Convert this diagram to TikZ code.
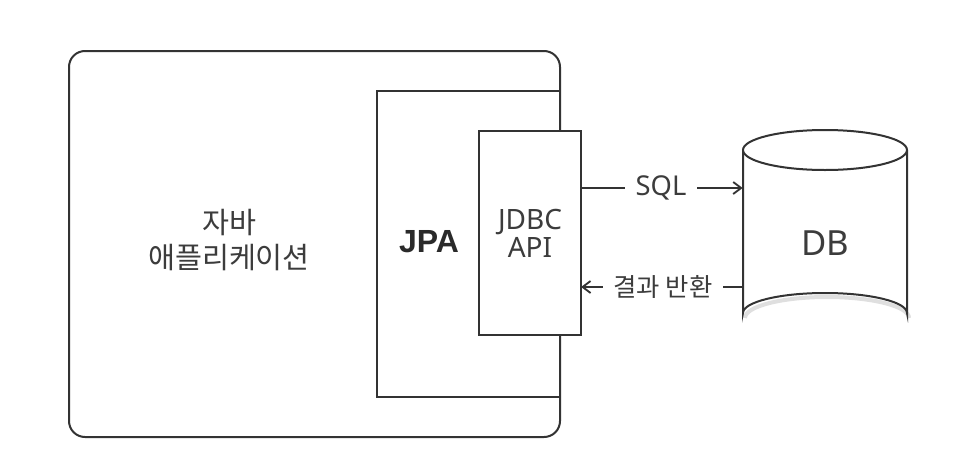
\documentclass[tikz,border=0pt]{standalone}
\usepackage{fontspec}
\setmainfont{Noto Sans}
\newfontfamily\kr{Noto Sans CJK KR}
\newfontfamily\arialfont{Liberation Sans}
\usetikzlibrary{arrows.meta}
\definecolor{ink}{HTML}{333333}
\definecolor{txt}{HTML}{3C3C3C}
\begin{document}
\begin{tikzpicture}[x=0.75pt,y=-0.75pt,
  box/.style={draw=ink,line width=1.5pt,inner sep=0pt,outer sep=0pt,fill=white},
  conn/.style={draw=ink,line width=1.4pt},
  arr/.style={conn,-{Straight Barb[length=6pt,width=9pt,line width=1.4pt]}},
  lbl/.style={text=txt,inner ysep=0pt,inner xsep=8pt}]
\useasboundingbox (0,0) rectangle (960,468);
\node[box,rounded corners=12pt,minimum width=368.25pt,minimum height=289.5pt] (app) at (314.5,244) {};
\node[box,minimum width=137.25pt,minimum height=229.5pt] (jpa) at (468.5,244) {};
\node[box,minimum width=76.5pt,minimum height=153pt,text=txt,align=center,
  font=\fontsize{21}{21}\selectfont] (jdbc) at (530,233) {JDBC\\API};
\node[text=txt,align=center,font=\kr\fontsize{22}{26.5}\selectfont] (applabel) at (229,240) {자바\\애플리케이션};
\node[text=txt!70!black,font=\arialfont\bfseries\fontsize{24}{26}\selectfont] (jpalabel) at (429,242) {JPA};
% DB cylinder
\draw[gray!25,line width=3pt] (745,318) arc[start angle=180,end angle=360,x radius=82,y radius=21];
\draw[ink,line width=1.5pt,fill=white] (743,150) -- (743,313) arc[start angle=180,end angle=360,x radius=82,y radius=20] -- (907,150);
\draw[ink,line width=1.5pt,fill=white] (825,150) ellipse[x radius=82,y radius=20];
\node[minimum width=123pt,minimum height=100pt,text=txt,font=\fontsize{26}{28}\selectfont] (db) at (825,243) {DB};
% connectors
\node[lbl,font=\fontsize{20.5}{22}\selectfont] (sql) at (661,188) {SQL};
\draw[conn] (sql.west -| jdbc.east) -- (sql.west);
\draw[arr] (sql.east) -- (sql.east -| db.west);
\node[lbl,font=\kr\fontsize{19}{21}\selectfont] (res) at (663,287) {결과 반환};
\draw[conn] (res.east -| db.west) -- (res.east);
\draw[arr] (res.west) -- (res.west -| jdbc.east);
\end{tikzpicture}
\end{document}
